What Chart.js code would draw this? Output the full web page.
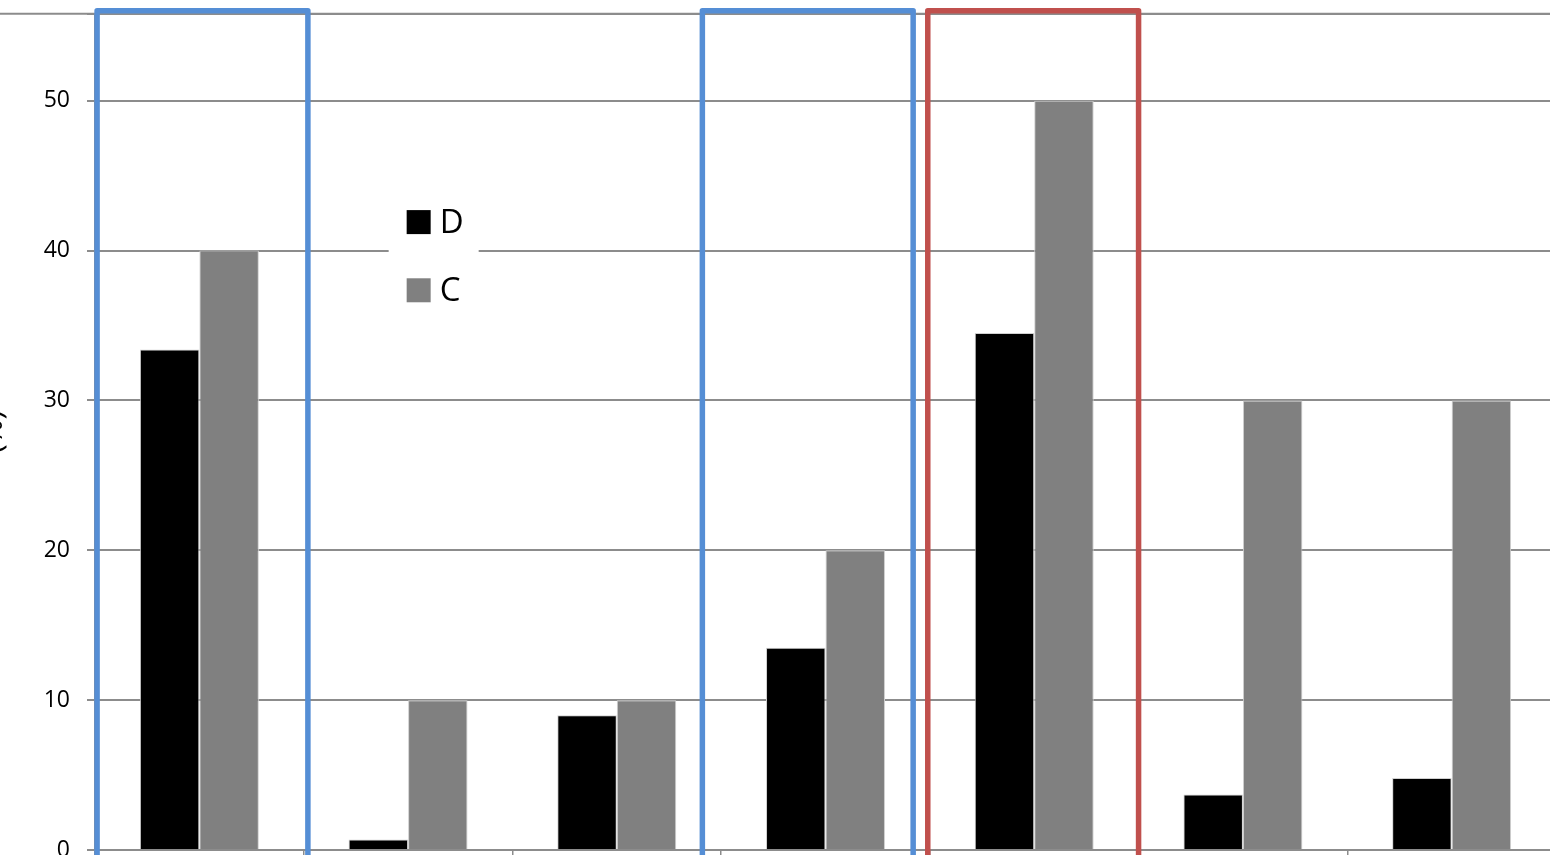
<!DOCTYPE html>
<html>
<head>
<meta charset="utf-8">
<script src="https://cdn.jsdelivr.net/npm/chart.js@4.4.1/dist/chart.umd.min.js"></script>
<style>
  html, body { margin: 0; padding: 0; background: #fff; overflow: hidden; width: 1550px; height: 855px; }
  #wrap { position: absolute; left: -26px; top: -17px; width: 1582px; height: 927px; }
</style>
</head>
<body>
<div id="wrap"><canvas id="c"></canvas></div>
<script>
// ---- data ----
const categories = ['1', '2', '3', '4', '5', '6', '7'];
const seriesD = [33.4, 0.7, 9.0, 13.5, 34.5, 3.7, 4.8];
const seriesC = [40, 10, 10, 20, 50, 30, 30];
const seriesNames = ['D', 'C'];
const seriesColors = ['#000000', '#808080'];
const yTitle = '(%)';
const yMax = 55.8;
const yStep = 10;
// highlight boxes: [from, to] in category-index units, colour
const boxFrom = [-0.49, 2.41, 3.49];
const boxTo = [0.52, 3.42, 4.50];
const boxColors = ['#558ed5', '#558ed5', '#c0504d'];
const boxTop = 56.0;

const FONT = '"Open Sans", "DejaVu Sans", sans-serif';

const frameLinePlugin = {
  id: 'frameLine',
  beforeDatasetsDraw(chart) {
    const ctx = chart.ctx, y = chart.scales.y;
    const yy = y.getPixelForValue(yMax);
    ctx.save();
    ctx.strokeStyle = '#8c8c8c';
    ctx.lineWidth = 2;
    ctx.beginPath();
    ctx.moveTo(0, yy); ctx.lineTo(chart.width, yy);
    ctx.stroke();
    ctx.restore();
  }
};

const boxesPlugin = {
  id: 'boxes',
  afterDatasetsDraw(chart) {
    const ctx = chart.ctx, x = chart.scales.x, y = chart.scales.y;
    const unit = x.getPixelForValue(1) - x.getPixelForValue(0);
    ctx.save();
    ctx.lineWidth = 5.5;
    ctx.lineJoin = 'round';
    for (let i = 0; i < boxFrom.length; i++) {
      const l = x.getPixelForValue(0) + boxFrom[i] * unit;
      const r = x.getPixelForValue(0) + boxTo[i] * unit;
      const t = y.getPixelForValue(boxTop);
      const b = y.getPixelForValue(-5);
      ctx.strokeStyle = boxColors[i];
      ctx.beginPath();
      ctx.moveTo(l, b); ctx.lineTo(l, t); ctx.lineTo(r, t); ctx.lineTo(r, b);
      ctx.stroke();
    }
    ctx.restore();
  }
};

const legendPlugin = {
  id: 'innerLegend',
  afterDraw(chart) {
    const ctx = chart.ctx, x = chart.scales.x, y = chart.scales.y;
    const unit = x.getPixelForValue(1) - x.getPixelForValue(0);
    const bx = x.getPixelForValue(0) + 0.907 * unit;   // legend box left
    const bw = 90;
    const yc0 = y.getPixelForValue(41.9);
    const gap = y.getPixelForValue(0) - y.getPixelForValue(4.55);
    ctx.save();
    ctx.fillStyle = '#ffffff';
    ctx.fillRect(bx, yc0 - 30, bw, gap + 60);
    ctx.font = '33px ' + FONT;
    ctx.textBaseline = 'middle';
    chart.data.datasets.forEach((ds, i) => {
      const yc = yc0 + i * gap;
      ctx.fillStyle = ds.backgroundColor;
      ctx.fillRect(bx + 18, yc - 12, 24, 24);
      ctx.fillStyle = '#000';
      ctx.fillText(ds.label, bx + 51, yc + 1);
    });
    ctx.restore();
  }
};

new Chart(document.getElementById('c'), {
  type: 'bar',
  data: {
    labels: categories,
    datasets: [
      { label: seriesNames[0], data: seriesD, backgroundColor: seriesColors[0], borderColor: '#d0d0d0', borderWidth: 1 },
      { label: seriesNames[1], data: seriesC, backgroundColor: seriesColors[1], borderColor: '#d0d0d0', borderWidth: 1 }
    ]
  },
  options: {
    responsive: true,
    maintainAspectRatio: false,
    animation: false,
    layout: { padding: { top: 13, right: 0, left: 0, bottom: 0 } },
    plugins: { legend: { display: false }, tooltip: { enabled: false } },
    datasets: { bar: { categoryPercentage: 0.57, barPercentage: 1.0 } },
    scales: {
      x: {
        offset: true,
        grid: { display: true, drawOnChartArea: false, drawTicks: true, tickLength: 10, color: '#8c8c8c', lineWidth: 1.5, offset: true },
        border: { display: true, color: '#8c8c8c', width: 2 },
        ticks: { font: { family: FONT, size: 22 }, color: '#000' },
        afterFit(scale) { scale.height = 60; }
      },
      y: {
        min: 0, max: yMax,
        grid: { color: '#8c8c8c', lineWidth: 2, tickLength: 8 },
        border: { display: true, color: '#8c8c8c', width: 2 },
        ticks: {
          stepSize: yStep, padding: 17, color: '#000',
          font: { family: FONT, size: 23 },
          callback: (v) => (v % yStep === 0 ? String(v) : '')
        },
        title: { display: true, text: yTitle, color: '#000', padding: 1, font: { family: FONT, size: 30 } },
        afterFit(scale) { scale.width = 121; }
      }
    }
  },
  plugins: [frameLinePlugin, boxesPlugin, legendPlugin]
});
</script>
</body>
</html>
